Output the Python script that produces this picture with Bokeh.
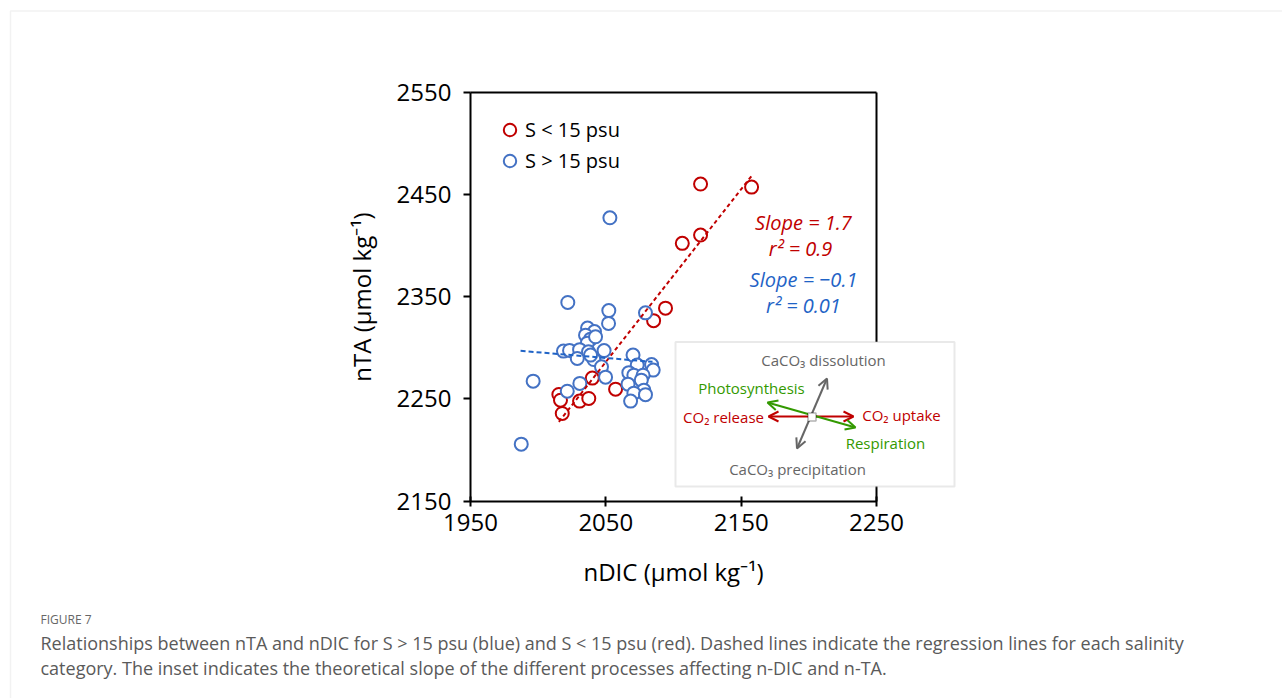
from bokeh.plotting import figure
from bokeh.models import (Range1d, Label, Arrow, OpenHead, BoxAnnotation, Legend,
                          LegendItem, FixedTicker, LinearAxis)
from bokeh.embed import file_html
from bokeh.resources import INLINE

FONT = "Open Sans"

# ---------------- data ----------------
red_x = [2120.0, 2157.7, 2106.5, 2120.0, 2094.1, 2085.3, 2057.2, 2040.0,
         2015.3, 2016.5, 2017.8, 2030.6, 2037.4]
red_y = [2460.0, 2457.0, 2402.0, 2410.1, 2338.6, 2326.4, 2259.4, 2270.2,
         2254.2, 2248.6, 2235.6, 2247.7, 2250.3]

blue_x = [2053.0, 2021.9, 2052.2, 2052.0, 2079.3, 2036.5, 2041.6, 2035.0,
          2038.7, 2036.3, 2018.7, 2023.2, 2030.6, 2037.2, 2028.9, 2041.1,
          2048.7, 2046.8, 2049.8, 2030.8, 2021.5, 1996.3, 1987.5, 2070.1,
          2073.2, 2083.8, 2085.0, 2067.0, 2070.7, 2077.5, 2066.4, 2076.2,
          2078.1, 2070.7, 2068.3, 2079.3, 2042.4, 2038.7]
blue_y = [2427.0, 2344.2, 2336.2, 2323.7, 2334.0, 2319.1, 2315.7, 2312.2,
          2308.3, 2304.4, 2296.6, 2297.3, 2298.0, 2295.9, 2289.4, 2288.4,
          2297.1, 2281.2, 2271.1, 2265.0, 2257.4, 2267.2, 2205.6, 2292.7,
          2282.9, 2283.4, 2278.0, 2275.5, 2273.1, 2273.0, 2264.3, 2268.2,
          2258.4, 2255.5, 2247.7, 2254.0, 2310.6, 2292.7]

red_fit_x = [2015.3, 2158.2]
red_fit_y = [2227.4, 2468.8]
blue_fit_x = [1987.0, 2084.5]
blue_fit_y = [2296.9, 2286.1]

x_ticks = [1950, 2050, 2150, 2250]
y_ticks = [2150, 2250, 2350, 2450, 2550]
X_MIN, X_MAX = 1950, 2250
Y_MIN, Y_MAX = 2150, 2550

RED = "#C00000"
BLUE = "#4472C4"
BLUE_TXT = "#1F63C6"
GREEN = "#339900"
GRAY = "#666666"

# ---------------- layout ----------------
W, H = 1282, 698
BOX_L, BOX_R, BOX_T, BOX_B = 470.0, 876.0, 91.5, 500.5   # plot box in page pixels
KX = (BOX_R - BOX_L) / (X_MAX - X_MIN)
KY = (BOX_B - BOX_T) / (Y_MAX - Y_MIN)

x_range = Range1d(X_MIN - BOX_L / KX, X_MIN + (W - BOX_L) / KX)
y_range = Range1d(Y_MAX - (H - BOX_T) / KY, Y_MAX + BOX_T / KY)


def sx(px):
    return px


def sy(py):
    return H - py


p = figure(width=W, height=H, x_range=x_range, y_range=y_range,
           output_backend="svg", toolbar_location=None,
           x_axis_location=None, y_axis_location=None,
           min_border_left=0, min_border_right=0, min_border_top=0, min_border_bottom=0)
p.background_fill_color = "white"
p.border_fill_color = "white"
p.outline_line_color = None
p.grid.visible = False


def style_axis(ax, label_size="24px"):
    ax.axis_line_width = 2
    ax.axis_line_color = "black"
    ax.major_tick_line_width = 2
    ax.major_tick_line_color = "black"
    ax.minor_tick_line_color = None
    ax.major_label_text_font = FONT
    ax.major_label_text_font_size = label_size
    ax.major_label_text_color = "black"
    ax.axis_label_text_font = FONT
    ax.axis_label_text_font_size = "24px"
    ax.axis_label_text_font_style = "normal"
    ax.axis_label_text_color = "black"


xaxis = LinearAxis(fixed_location=Y_MIN, bounds=(X_MIN, X_MAX),
                   ticker=FixedTicker(ticks=x_ticks), axis_label="nDIC (μmol kg⁻¹)")
style_axis(xaxis)
xaxis.major_tick_in = 5
xaxis.major_tick_out = 5
xaxis.major_label_standoff = 8
xaxis.axis_label_standoff = 20
p.add_layout(xaxis, "below")

yaxis = LinearAxis(fixed_location=X_MIN, bounds=(Y_MIN, Y_MAX),
                   ticker=FixedTicker(ticks=y_ticks), axis_label="nTA (μmol kg⁻¹)")
style_axis(yaxis)
yaxis.major_tick_in = 0
yaxis.major_tick_out = 7
yaxis.major_label_standoff = 12
yaxis.axis_label_standoff = 16
p.add_layout(yaxis, "left")

# top and right sides of the plot box
topaxis = LinearAxis(fixed_location=Y_MAX, bounds=(X_MIN, X_MAX),
                     ticker=FixedTicker(ticks=[]))
style_axis(topaxis)
topaxis.major_label_text_font_size = "0px"
topaxis.major_tick_line_color = None
p.add_layout(topaxis, "above")

rightaxis = LinearAxis(fixed_location=X_MAX, bounds=(Y_MIN, Y_MAX),
                       ticker=FixedTicker(ticks=[]))
style_axis(rightaxis)
rightaxis.major_label_text_font_size = "0px"
rightaxis.major_tick_line_color = None
p.add_layout(rightaxis, "right")

# ---------------- data marks ----------------
r_red = p.scatter(red_x, red_y, marker="circle", size=13, line_color=RED,
                  line_width=2, fill_color="white")
r_blue = p.scatter(blue_x, blue_y, marker="circle", size=13, line_color=BLUE,
                   line_width=2, fill_color="white")
p.line(red_fit_x, red_fit_y, line_color=RED, line_width=2, line_dash="4 3")
p.line(blue_fit_x, blue_fit_y, line_color=BLUE_TXT, line_width=2, line_dash="5 3")

legend = Legend(items=[LegendItem(label="S < 15 psu", renderers=[r_red]),
                       LegendItem(label="S > 15 psu", renderers=[r_blue])],
                location=(494, H - 175.5), glyph_width=31, glyph_height=31,
                label_height=31, label_standoff=0, padding=0, margin=0, spacing=0,
                border_line_color=None, background_fill_alpha=0,
                label_text_font=FONT, label_text_font_size="20px",
                label_text_color="black", label_text_baseline="middle")
p.add_layout(legend)


def label(px, py, text, color, size, style="normal", align="center"):
    p.add_layout(Label(x=sx(px), y=sy(py), x_units="screen", y_units="screen",
                       text=text, text_color=color, text_font=FONT,
                       text_font_size=size, text_font_style=style,
                       text_align=align, text_baseline="middle"))


# regression annotations
label(803, 222, "Slope = 1.7", RED, "20px", "italic")
label(800, 248, "r² = 0.9", RED, "20px", "italic")
label(803, 279, "Slope = −0.1", BLUE_TXT, "20px", "italic")
label(803, 305, "r² = 0.01", BLUE_TXT, "20px", "italic")

# ---------------- inset ----------------
p.add_layout(BoxAnnotation(left=sx(675), right=sx(954), top=sy(341.5), bottom=sy(486),
                           left_units="screen", right_units="screen",
                           top_units="screen", bottom_units="screen",
                           fill_color="white", fill_alpha=1,
                           line_color="#B5B5B5", line_width=2))


def arrow(x0, y0, x1, y1, color):
    p.add_layout(Arrow(x_start=sx(x0), y_start=sy(y0), x_end=sx(x1), y_end=sy(y1),
                       start_units="screen", end_units="screen",
                       line_color=color, line_width=2,
                       start=OpenHead(size=10, line_color=color, line_width=2),
                       end=OpenHead(size=10, line_color=color, line_width=2)))


arrow(768, 416, 853, 416, RED)
arrow(767, 402, 855, 427, GREEN)
arrow(796.5, 448, 826.5, 378, GRAY)
p.add_layout(BoxAnnotation(left=sx(807.5), right=sx(815.5), top=sy(412.5), bottom=sy(420.5),
                           left_units="screen", right_units="screen",
                           top_units="screen", bottom_units="screen",
                           fill_color="white", fill_alpha=1,
                           line_color="black", line_width=1.5))

label(823, 359, "CaCO₃ dissolution", GRAY, "15px")
label(751, 387, "Photosynthesis", GREEN, "15px")
label(723, 416, "CO₂ release", RED, "15px")
label(901, 414, "CO₂ uptake", RED, "15px")
label(885, 442, "Respiration", GREEN, "15px")
label(797, 468, "CaCO₃ precipitation", GRAY, "15px")

# ---------------- page frame & caption ----------------
p.add_layout(BoxAnnotation(left=sx(10), right=sx(W + 10), top=sy(10.5), bottom=sy(H + 10),
                           left_units="screen", right_units="screen",
                           top_units="screen", bottom_units="screen",
                           fill_alpha=0, line_color="#D4D4D4", line_width=1.5))

label(40, 619, "FIGURE 7", "#666666", "12px", align="left")
label(40, 642, "Relationships between nTA and nDIC for S > 15 psu (blue) and S < 15 psu (red). "
      "Dashed lines indicate the regression lines for each salinity", "#5A5A5A", "18px", align="left")
label(40, 667, "category. The inset indicates the theoretical slope of the different processes "
      "affecting n-DIC and n-TA.", "#5A5A5A", "18px", align="left")

open("out.html", "w").write(file_html(p, INLINE))
